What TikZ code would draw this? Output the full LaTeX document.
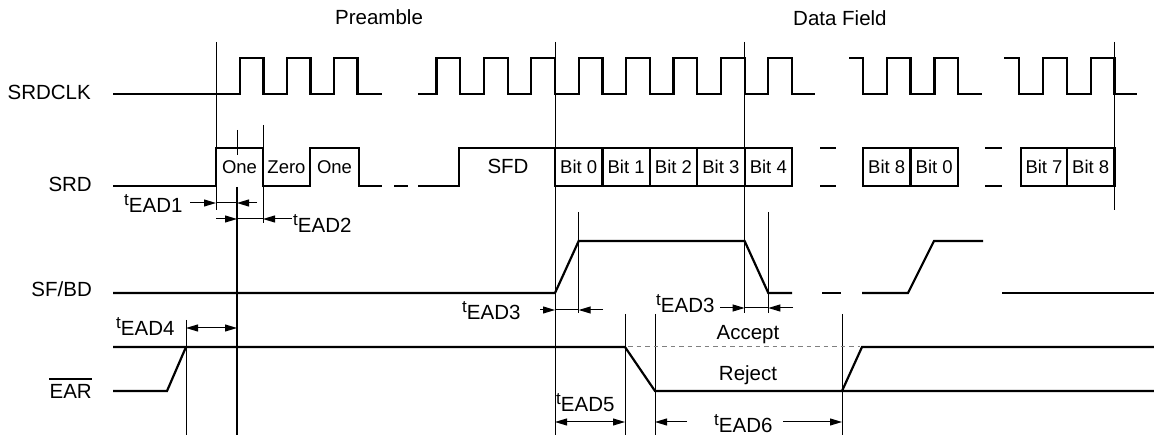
\documentclass[tikz,border=0pt]{standalone}
\usepackage{fontspec}
\setmainfont{Liberation Sans}
\usetikzlibrary{arrows.meta}
\newcommand\teadlbl[1]{\raisebox{7pt}{\fontsize{17}{17}\selectfont t}EAD#1}
\begin{document}
\begin{tikzpicture}[x=1pt,y=-1pt,
  sig/.style={line width=2.2pt, line join=miter},
  guide/.style={line width=1pt},
  dim/.style={line width=1pt},
  thickguide/.style={line width=2.2pt},
  lbl/.style={font=\fontsize{20.5}{24}\selectfont, inner sep=0pt},
  bitlbl/.style={font=\fontsize{18.5}{21}\selectfont, inner sep=0pt, anchor=base},
  >={Triangle[length=12pt,width=7pt]}]
\useasboundingbox (0,0) rectangle (1154,435);

% signal names
\node[lbl, anchor=base east] (lclk) at (91,100) {SRDCLK};
\node[lbl, anchor=base east] (lsrd) at (92,192) {SRD};
\node[lbl, anchor=base east] (lsfbd) at (92,297) {SF/BD};
\node[lbl, anchor=base east] (lear) at (92,399) {EAR};
\draw[line width=1.8pt] ([yshift=6pt]lear.north west) -- ([yshift=6pt]lear.north east);

% headings
\node[lbl, anchor=base west] (pre) at (335,25) {Preamble};
\node[lbl, anchor=base west] (df) at (793,26) {Data Field};

% guide lines
\draw[guide] (216,42) -- (216,210);
\draw[guide] (555,42) -- (555,435);
\draw[guide] (744.6,42) -- (744.6,313);
\draw[guide] (1114.5,42) -- (1114.5,210);
\draw[guide] (237,130) -- (237,155);
\draw[thickguide] (237,187) -- (237,435);
\draw[guide] (263,125) -- (263,223);
\draw[guide] (578.7,212) -- (578.7,313);
\draw[guide] (768.3,212) -- (768.3,313);
\draw[guide] (186,320) -- (186,435);
\draw[guide] (625,314) -- (625,435);
\draw[guide] (655,314) -- (655,435);
\draw[guide] (842,314) -- (842,435);

% SRDCLK
\draw[sig] (113,94) -- (240,94) -- (240,58) -- (263.5,58) -- (263.5,94) -- (287,94) -- (287,58) -- (310.5,58) -- (310.5,94) -- (334,94) -- (334,58) -- (357.5,58) -- (357.5,94) -- (382,94);
\draw[sig] (418,94) foreach \k in {0,...,7} { -- ({436.5+47.4*\k},94) -- ({436.5+47.4*\k},58) -- ({460.2+47.4*\k},58) -- ({460.2+47.4*\k},94) } -- (815,94);
\draw[sig] (849,58) -- (863,58) -- (863,94) -- (887,94) -- (887,58) -- (910.5,58) -- (910.5,94) -- (934.5,94) -- (934.5,58) -- (958,58) -- (958,94) -- (982,94);
\draw[sig] (1004,58) -- (1019,58) -- (1019,94) -- (1043,94) -- (1043,58) -- (1067,58) -- (1067,94) -- (1091,94) -- (1091,58) -- (1114.5,58) -- (1114.5,94) -- (1137,94);

% SRD
\draw[sig] (113,186) -- (216,186) -- (216,148) -- (263,148) -- (263,186) -- (310,186) -- (310,148) -- (359,148) -- (359,186) -- (382,186);
\draw[sig] (394,186) -- (408,186);
\draw[sig] (418,186) -- (459,186) -- (459,148) -- (555,148);
\draw[sig] (555,148) rectangle (792,186);
\foreach \xx in {602.4,649.8,697.2,744.6} \draw[sig] (\xx,148) -- (\xx,186);
\draw[sig] (820,148) -- (836,148);
\draw[sig] (820,186) -- (836,186);
\draw[sig] (863,148) rectangle (958,186);
\draw[sig] (910.5,148) -- (910.5,186);
\draw[sig] (985,148) -- (1002,148);
\draw[sig] (985,186) -- (1002,186);
\draw[sig] (1021,148) rectangle (1114.5,186);
\draw[sig] (1067,148) -- (1067,186);

\node[bitlbl] (b1) at (239.5,174) {One};
\node[bitlbl] (b2) at (286.5,174) {Zero};
\node[bitlbl] (b3) at (334.5,174) {One};
\node[lbl, anchor=base] (sfd) at (508,174) {SFD};
\node[bitlbl] (d0) at (578.7,174) {Bit 0};
\node[bitlbl] (d1) at (626.1,174) {Bit 1};
\node[bitlbl] (d2) at (673.5,174) {Bit 2};
\node[bitlbl] (d3) at (720.9,174) {Bit 3};
\node[bitlbl] (d4) at (768.3,174) {Bit 4};
\node[bitlbl] (d8a) at (886.7,174) {Bit 8};
\node[bitlbl] (d0b) at (934.2,174) {Bit 0};
\node[bitlbl] (d7) at (1044,174) {Bit 7};
\node[bitlbl] (d8b) at (1090.7,174) {Bit 8};

% SF/BD
\draw[sig] (113,293) -- (555,293) -- (578.7,241) -- (744.6,241) -- (768.3,293) -- (792,293);
\draw[sig] (822,293) -- (841,293);
\draw[sig] (862,293) -- (908,293) -- (934,241) -- (983,241);
\draw[sig] (1002,293) -- (1154,293);

% EAR
\draw[sig] (113,347) -- (625,347) -- (655,391) -- (1154,391);
\draw[sig] (113,391) -- (167,391) -- (186,347);
\draw[sig] (842,391) -- (862,347) -- (1154,347);
\draw[line width=1pt, gray, dash pattern=on 4.5pt off 4pt] (628,347) -- (860,347);
\node[lbl, anchor=base] (acc) at (748,340) {Accept};
\node[lbl, anchor=base] (rej) at (748,381) {Reject};

% timing dimensions
\draw[dim,->] (190,203) -- (216,203);
\draw[dim] (216,203) -- (237,203);
\draw[dim,->] (257,203) -- (237,203);
\node[lbl, anchor=base west] (t1) at (124,213) {\teadlbl{1}};

\draw[dim,->] (216,219) -- (237,219);
\draw[dim] (237,219) -- (263,219);
\draw[dim,->] (292,219) -- (263,219);
\node[lbl, anchor=base west] (t2) at (293,233) {\teadlbl{2}};

\draw[dim,->] (540,310) -- (555,310);
\draw[dim] (555,310) -- (578.7,310);
\draw[dim,->] (603,310) -- (578.7,310);
\node[lbl, anchor=base west] (t3a) at (462,320) {\teadlbl{3}};

\draw[dim,->] (720,308) -- (744.6,308);
\draw[dim] (744.6,308) -- (768.3,308);
\draw[dim,->] (793,308) -- (768.3,308);
\node[lbl, anchor=base west] (t3b) at (656,313) {\teadlbl{3}};

\draw[dim,<->] (186,328) -- (237,328);
\node[lbl, anchor=base west] (t4) at (116,336) {\teadlbl{4}};

\draw[dim,<->] (555,422) -- (625,422);
\node[lbl, anchor=base west] (t5) at (556,412) {\teadlbl{5}};

\draw[dim,->] (687,422) -- (655,422);
\draw[dim,->] (783,422) -- (842,422);
\node[lbl, anchor=base west] (t6) at (714,432) {\teadlbl{6}};
\end{tikzpicture}
\end{document}
